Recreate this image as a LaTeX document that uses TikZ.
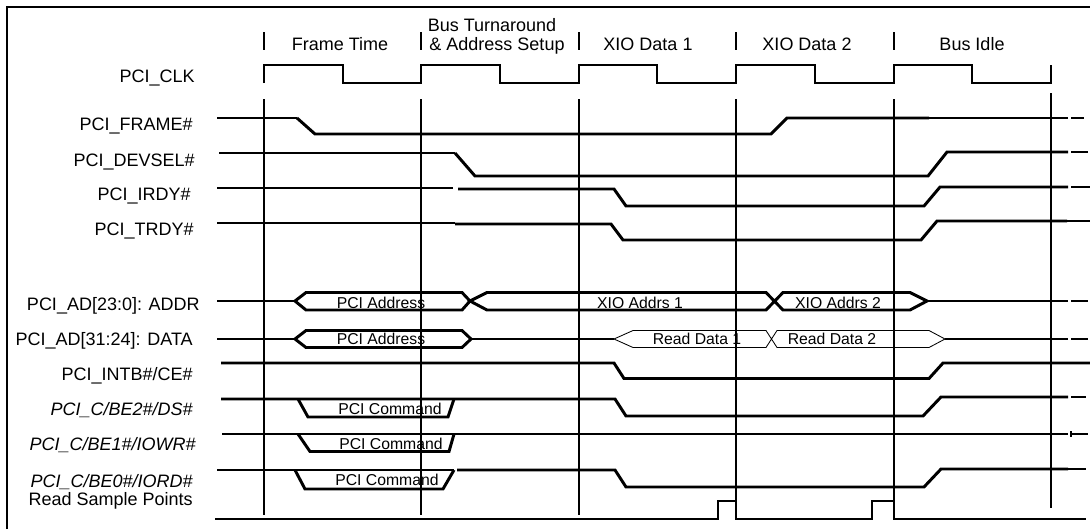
\documentclass[tikz,border=0pt]{standalone}
\usepackage{fontspec}
\setmainfont{Liberation Sans}

\begin{document}
\begin{tikzpicture}[x=0.025cm, y=-0.025cm,
    wire/.style={line width=0.8pt},
    sig/.style={line width=2.1pt},
    edge/.style={line width=1.3pt},
    lbl/.style={inner sep=0pt, anchor=base east, font=\fontsize{12.8}{14}\selectfont},
    hdr/.style={inner sep=0pt, anchor=base, font=\fontsize{12.8}{14}\selectfont},
    val/.style={inner sep=0pt, anchor=base, font=\fontsize{11.2}{13}\selectfont}]
    \useasboundingbox (0,0) rectangle (1090,529);

    % Marco
    \draw[edge] (7,529) -- (7,7) -- (1090,7);

    % Cabecera: fases
    \draw[edge] (264,32) -- (264,50);
    \draw[edge] (421,32) -- (421,50);
    \draw[edge] (579,32) -- (579,50);
    \draw[edge] (736,32) -- (736,50);
    \draw[edge] (894,32) -- (894,50);
    \node[hdr] (hframe) at (340,50) {Frame Time};
    \node[hdr] (hturna) at (492,31) {Bus Turnaround};
    \node[hdr] (hturnb) at (497,50) {\& Address Setup};
    \node[hdr] (hdata1) at (648,50) {XIO Data 1};
    \node[hdr] (hdata2) at (807,50) {XIO Data 2};
    \node[hdr] (hidle) at (972,50) {Bus Idle};

    % Reloj
    \draw[edge] (264,83) -- (264,65) -- (343,65) -- (343,83) -- (421,83) -- (421,65)
        -- (500,65) -- (500,83) -- (579,83) -- (579,65) -- (657,65) -- (657,83)
        -- (736,83) -- (736,65) -- (815,65) -- (815,83) -- (894,83) -- (894,65)
        -- (972,65) -- (972,83) -- (1051,83) -- (1051,65);

    % Lineas verticales de flanco
    \draw[edge] (264,99) -- (264,515);
    \draw[edge] (421,99) -- (421,515);
    \draw[edge] (579,99) -- (579,515);
    \draw[edge] (736,99) -- (736,519);
    \draw[edge] (894,99) -- (894,519);
    \draw[edge] (1051,93) -- (1051,508);

    % Nombres de senales
    \node[lbl] (nclk) at (195,82.5) {PCI\_CLK};
    \node[lbl] (nframe) at (193,130) {PCI\_FRAME\#};
    \node[lbl] (ndevsel) at (195,166.5) {PCI\_DEVSEL\#};
    \node[lbl] (nirdy) at (191,200.5) {PCI\_IRDY\#};
    \node[lbl] (ntrdy) at (194,235.5) {PCI\_TRDY\#};
    \node[lbl] (naddr) at (200,310) {PCI\_AD[23:0]: ADDR};
    \node[lbl] (ndata) at (193,345.5) {PCI\_AD[31:24]: DATA};
    \node[lbl] (nintb) at (193,380) {PCI\_INTB\#/CE\#};
    \node[lbl] (ncbea) at (193,415.5) {\itshape PCI\_C/BE2\#/DS\#};
    \node[lbl] (ncbeb) at (196,450) {\itshape PCI\_C/BE1\#/IOWR\#};
    \node[lbl] (ncbec) at (193,487) {\itshape PCI\_C/BE0\#/IORD\#};
    \node[lbl] (nsample) at (193,505.5) {Read Sample Points};

    % FRAME
    \draw[wire] (217,118) -- (297,118);
    \draw[sig] (297,118) -- (315,134) -- (771,134) -- (787,118) -- (929,118);
    \draw[wire] (929,118) -- (1068,118);
    \draw[wire] (1071,118) -- (1084,118);

    % DEVSEL
    \draw[wire] (219,153) -- (455,153);
    \draw[sig] (455,153) -- (475,176) -- (928,176) -- (947,152) -- (1068,152);
    \draw[wire] (1071,152) -- (1088,152);

    % IRDY
    \draw[wire] (217,188) -- (453,188);
    \draw[sig] (458,189) -- (614,189) -- (626,206) -- (924,206) -- (940,187) -- (1068,187);
    \draw[wire] (1071,187) -- (1090,187);

    % TRDY
    \draw[wire] (217,223) -- (455,223);
    \draw[sig] (455,224) -- (611,224) -- (623,240) -- (921,240) -- (937,221) -- (1067,221);
    \draw[wire] (1067,221) -- (1090,221);

    % AD[23:0]
    \draw[wire] (217,301) -- (295,301);
    \draw[sig] (295,301) -- (306,292.5) -- (462,292.5) -- (470,301) -- (462,310) -- (306,310) -- cycle;
    \draw[sig] (470,301) -- (487,292.5) -- (766,292.5) -- (783,310) -- (910,310) -- (927,301)
        -- (910,292.5) -- (783,292.5) -- (766,310) -- (487,310) -- cycle;
    \draw[wire] (927,301) -- (1068,301);
    \draw[wire] (1071,301) -- (1088,301);
    \node[val] (vaddr) at (381,308) {PCI Address};
    \node[val] (vxioa) at (640,308) {XIO Addrs 1};
    \node[val] (vxiob) at (838,308) {XIO Addrs 2};

    % AD[31:24]
    \draw[wire] (217,339) -- (295,339);
    \draw[sig] (295,339) -- (306,330.5) -- (462,330.5) -- (471,339) -- (462,347.5) -- (306,347.5) -- cycle;
    \draw[wire] (471,339) -- (614,339);
    \draw[line width=0.6pt] (614,339) -- (633,330.5) -- (766,330.5) -- (777,347.5) -- (929,347.5) -- (945,339)
        -- (929,330.5) -- (777,330.5) -- (766,347.5) -- (633,347.5) -- cycle;
    \draw[wire] (945,339) -- (1068,339);
    \draw[wire] (1071,339) -- (1088,339);
    \node[val] (vdata) at (381,344.5) {PCI Address};
    \node[val] (vreada) at (697,344.5) {Read Data 1};
    \node[val] (vreadb) at (832,344.5) {Read Data 2};

    % INTB / CE
    \draw[sig] (221,363) -- (614,363) -- (624,378.5) -- (929,378.5) -- (943,363) -- (1090,363);

    % C/BE2
    \draw[sig] (221,399) -- (615,399) -- (626,416) -- (923,416) -- (941,397) -- (1068,397);
    \draw[wire] (1071,397) -- (1086,397);
    \draw[sig] (298,399) -- (308,417) -- (448,417) -- (454,399);
    \node[val] (vcmda) at (390,414) {PCI Command};

    % C/BE1
    \draw[wire] (222,434) -- (298,434);
    \draw[line width=1.6pt] (298,434) -- (459,434);
    \draw[sig] (459,434) -- (1068,434);
    \draw[wire] (1071,431) -- (1071,437);
    \draw[wire] (1071,434) -- (1088,434);
    \draw[sig] (298,434) -- (310,451.5) -- (449,451.5) -- (454,434);
    \node[val] (vcmdb) at (391,449) {PCI Command};

    % C/BE0
    \draw[wire] (217,470) -- (295,470);
    \draw[sig] (295,470) -- (454,470);
    \draw[sig] (457,470) -- (615,470) -- (626,487) -- (924,487) -- (941,469) -- (1068,469);
    \draw[wire] (1068,469) -- (1086,469);
    \draw[sig] (295,470) -- (305,489) -- (443,489) -- (454,470);
    \node[val] (vcmdc) at (387,485.5) {PCI Command};

    % Puntos de muestreo
    \draw[wire] (215,519) -- (718,519) -- (718,501) -- (736,501) -- (736,519) -- (872,519)
        -- (872,501) -- (894,501) -- (894,519) -- (1086,519);
\end{tikzpicture}
\end{document}
